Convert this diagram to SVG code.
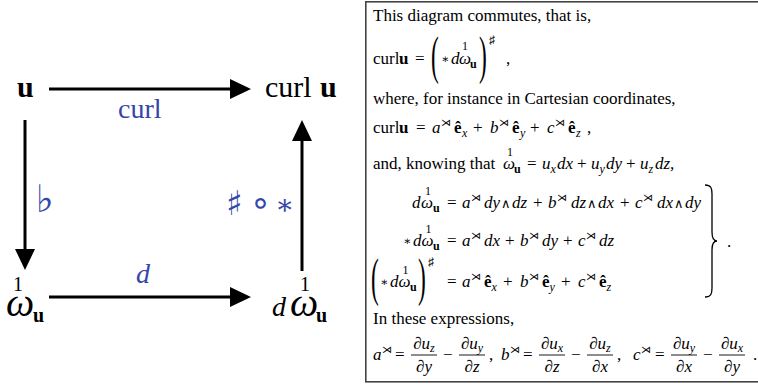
<svg xmlns="http://www.w3.org/2000/svg" width="758" height="386" viewBox="0 0 758 386">
<style>
.L{font-family:"Liberation Serif","DejaVu Serif",serif;fill:#000}
.f30{font-size:30px}.f28{font-size:28px}.f40{font-size:40px}.f20{font-size:20px}
.blue{fill:#3446a8}
.sy{font-family:"DejaVu Sans",sans-serif}
.st{font-family:"DejaVu Serif",serif;font-size:12px}
.wg{font-family:"DejaVu Sans",sans-serif;font-size:13px}
.r{font-family:"Liberation Serif","DejaVu Serif",serif;font-size:17px;fill:#000}
.i{font-style:italic}
.b{font-weight:bold}
.sm{font-size:12px}
.xs{font-size:10px}
.bp{font-size:52px}
.edge{stroke:#000;stroke-width:3;fill:none}
.bar{stroke:#000;stroke-width:0.9}
</style>
<defs>
<marker id="ah" markerUnits="userSpaceOnUse" markerWidth="22" markerHeight="20" refX="5" refY="10" orient="auto"><path d="M0,0 L21,10 L0,20 z" fill="#000"/></marker>
</defs>
<rect width="758" height="386" fill="#fff"/>
<g id="connectors">
<line class="edge" x1="49" y1="89" x2="235" y2="89" marker-end="url(#ah)"/>
<line class="edge" x1="25" y1="120" x2="25" y2="254" marker-end="url(#ah)"/>
<line class="edge" x1="302" y1="271" x2="302" y2="136" marker-end="url(#ah)"/>
<line class="edge" x1="49" y1="297" x2="235" y2="297" marker-end="url(#ah)"/>
<text class="L f28 blue" x="118" y="118">curl</text>
<text class="sy blue" font-size="38" x="36" y="212">♭</text>
<text class="sy blue" font-size="34" x="226" y="215">♯</text>
<text class="sy blue" font-size="34" x="250" y="214">∘</text>
<text class="blue" font-family="DejaVu Serif, serif" font-size="28" x="275" y="214">∗</text>
<text class="L f28 i blue" x="136" y="283">d</text>
</g>
<g id="n-u"><text class="L f30 b" x="17" y="97">u</text></g>
<g id="n-curlu"><text class="L f30" x="265" y="97">curl<tspan x="320" class="b">u</tspan></text></g>
<g id="n-omega"><text class="L f20" x="13" y="291">1</text><text class="L f40 i" x="6" y="316">ω</text><text class="L f20 b" x="33" y="322">u</text></g>
<g id="n-domega"><text class="L f28 i" x="272" y="316">d</text><text class="L f20" x="300" y="291">1</text><text class="L f40 i" x="290" y="316">ω</text><text class="L f20 b" x="316" y="322">u</text></g>
<g id="note">
<rect x="365.8" y="1.8" width="400" height="380" fill="#fff" stroke="#444" stroke-width="1.6"/>
<text class="r" x="373" y="21">This diagram commutes, that is,</text>
<text class="r" y="64"><tspan x="373">curl</tspan><tspan x="399" class="b">u</tspan><tspan x="415">=</tspan><tspan x="441" y="63" class="st">∗</tspan><tspan x="451" y="64" class="i">d</tspan><tspan x="459" class="i">ω</tspan><tspan x="470" y="68" class="b sm">u</tspan><tspan x="506" y="64">,</tspan></text>
<text class="r sm" x="462" y="50">1</text>
<text class="r bp" transform="translate(431,73) scale(0.45,1)">(</text>
<text class="r bp" transform="translate(479,73) scale(0.45,1)">)</text>
<text class="r sy sm" x="489" y="44">♯</text>
<text class="r" x="373" y="104">where, for instance in Cartesian coordinates,</text>
<text class="r" y="133"><tspan x="373">curl</tspan><tspan x="399" class="b">u</tspan><tspan x="416">=</tspan><tspan x="432" class="i">a</tspan><tspan x="441" y="126" class="sy xs">⋊</tspan><tspan x="454" y="133" class="b">ê</tspan><tspan x="462" y="137" class="i sm">x</tspan><tspan x="473" y="133">+</tspan><tspan x="490" class="i">b</tspan><tspan x="499" y="126" class="sy xs">⋊</tspan><tspan x="512" y="133" class="b">ê</tspan><tspan x="520" y="137" class="i sm">y</tspan><tspan x="530" y="133">+</tspan><tspan x="547" class="i">c</tspan><tspan x="555" y="126" class="sy xs">⋊</tspan><tspan x="568" y="133" class="b">ê</tspan><tspan x="576" y="137" class="i sm">z</tspan><tspan x="587" y="133">,</tspan></text>
<text class="r" y="169"><tspan x="373">and, knowing that</tspan><tspan x="503" class="i">ω</tspan><tspan x="514" y="173" class="b sm">u</tspan><tspan x="527" y="169">=</tspan><tspan x="542" class="i">u</tspan><tspan x="550.5" y="173" class="i sm">x</tspan><tspan x="557" y="169" class="i">dx</tspan><tspan x="577">+</tspan><tspan x="591" class="i">u</tspan><tspan x="599.5" y="173" class="i sm">y</tspan><tspan x="606" y="169" class="i">dy</tspan><tspan x="626">+</tspan><tspan x="640" class="i">u</tspan><tspan x="648.5" y="173" class="i sm">z</tspan><tspan x="655" y="169" class="i">dz,</tspan></text>
<text class="r sm" x="507" y="156">1</text>
<text class="r" y="208"><tspan x="412" class="i">d</tspan><tspan x="421" class="i">ω</tspan><tspan x="433" y="212" class="b sm">u</tspan><tspan x="447" y="208">=</tspan><tspan x="462" class="i">a</tspan><tspan x="471" y="201" class="sy xs">⋊</tspan><tspan x="484" y="208" class="i">dy</tspan><tspan x="501" class="wg">∧</tspan><tspan x="512" class="i">dz</tspan><tspan x="533">+</tspan><tspan x="548" class="i">b</tspan><tspan x="557" y="201" class="sy xs">⋊</tspan><tspan x="571" y="208" class="i">dz</tspan><tspan x="587" class="wg">∧</tspan><tspan x="598" class="i">dx</tspan><tspan x="620">+</tspan><tspan x="635" class="i">c</tspan><tspan x="643" y="201" class="sy xs">⋊</tspan><tspan x="657" y="208" class="i">dx</tspan><tspan x="674" class="wg">∧</tspan><tspan x="685" class="i">dy</tspan></text>
<text class="r sm" x="425" y="195">1</text>
<text class="r" y="246"><tspan x="403" y="245" class="st">∗</tspan><tspan x="413" y="246" class="i">d</tspan><tspan x="421.5" class="i">ω</tspan><tspan x="433" y="250" class="b sm">u</tspan><tspan x="447" y="246">=</tspan><tspan x="462" class="i">a</tspan><tspan x="471" y="239" class="sy xs">⋊</tspan><tspan x="484" y="246" class="i">dx</tspan><tspan x="505">+</tspan><tspan x="520" class="i">b</tspan><tspan x="529" y="239" class="sy xs">⋊</tspan><tspan x="542" y="246" class="i">dy</tspan><tspan x="563">+</tspan><tspan x="578" class="i">c</tspan><tspan x="586" y="239" class="sy xs">⋊</tspan><tspan x="599" y="246" class="i">dz</tspan></text>
<text class="r sm" x="425.5" y="233">1</text>
<text class="r" y="287"><tspan x="380" y="286" class="st">∗</tspan><tspan x="390" y="287" class="i">d</tspan><tspan x="398.5" class="i">ω</tspan><tspan x="410" y="291" class="b sm">u</tspan><tspan x="447" y="287">=</tspan><tspan x="462" class="i">a</tspan><tspan x="471" y="280" class="sy xs">⋊</tspan><tspan x="484" y="287" class="b">ê</tspan><tspan x="491.5" y="291" class="i sm">x</tspan><tspan x="503" y="287">+</tspan><tspan x="520" class="i">b</tspan><tspan x="529" y="280" class="sy xs">⋊</tspan><tspan x="542" y="287" class="b">ê</tspan><tspan x="549.5" y="291" class="i sm">y</tspan><tspan x="561" y="287">+</tspan><tspan x="578" class="i">c</tspan><tspan x="586" y="280" class="sy xs">⋊</tspan><tspan x="599" y="287" class="b">ê</tspan><tspan x="606.5" y="291" class="i sm">z</tspan></text>
<text class="r sm" x="402.5" y="274">1</text>
<text class="r bp" transform="translate(371,295) scale(0.45,1)">(</text>
<text class="r bp" transform="translate(418,295) scale(0.45,1)">)</text>
<text class="r sy sm" x="428" y="266">♯</text>
<path d="M705,185 C711,185 712,188 712,194 L712,232 C712,238 714,241 717,241 C714,241 712,244 712,250 L712,288 C712,294 711,297 705,297" fill="none" stroke="#000" stroke-width="1.3"/>
<text class="r" x="727" y="247">.</text>
<text class="r" x="373" y="324">In these expressions,</text>
<text class="r" y="360"><tspan x="373" class="i">a</tspan><tspan x="382" y="353" class="sy xs">⋊</tspan><tspan x="395" y="360">=</tspan><tspan x="443">−</tspan><tspan x="489">,</tspan><tspan x="501" class="i">b</tspan><tspan x="510" y="353" class="sy xs">⋊</tspan><tspan x="523" y="360">=</tspan><tspan x="571">−</tspan><tspan x="617">,</tspan><tspan x="633" class="i">c</tspan><tspan x="641" y="353" class="sy xs">⋊</tspan><tspan x="655" y="360">=</tspan><tspan x="703">−</tspan><tspan x="753">.</tspan></text>
<line class="bar" x1="411" y1="355" x2="437" y2="355"/>
<line class="bar" x1="459" y1="355" x2="485" y2="355"/>
<line class="bar" x1="539" y1="355" x2="565" y2="355"/>
<line class="bar" x1="587" y1="355" x2="613" y2="355"/>
<line class="bar" x1="671" y1="355" x2="697" y2="355"/>
<line class="bar" x1="719" y1="355" x2="745" y2="355"/>
<text class="r i" x="424" y="349" text-anchor="middle">∂u<tspan class="sm" dy="3">z</tspan></text>
<text class="r i" x="424" y="372" text-anchor="middle">∂y</text>
<text class="r i" x="472" y="349" text-anchor="middle">∂u<tspan class="sm" dy="3">y</tspan></text>
<text class="r i" x="472" y="372" text-anchor="middle">∂z</text>
<text class="r i" x="552" y="349" text-anchor="middle">∂u<tspan class="sm" dy="3">x</tspan></text>
<text class="r i" x="552" y="372" text-anchor="middle">∂z</text>
<text class="r i" x="600" y="349" text-anchor="middle">∂u<tspan class="sm" dy="3">z</tspan></text>
<text class="r i" x="600" y="372" text-anchor="middle">∂x</text>
<text class="r i" x="684" y="349" text-anchor="middle">∂u<tspan class="sm" dy="3">y</tspan></text>
<text class="r i" x="684" y="372" text-anchor="middle">∂x</text>
<text class="r i" x="732" y="349" text-anchor="middle">∂u<tspan class="sm" dy="3">x</tspan></text>
<text class="r i" x="732" y="372" text-anchor="middle">∂y</text>
</g>
</svg>
